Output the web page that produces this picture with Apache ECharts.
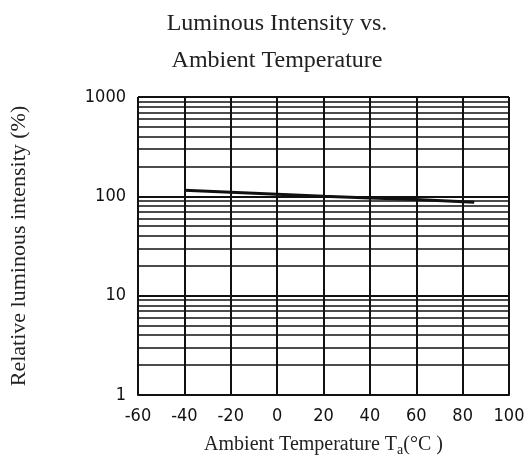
<!DOCTYPE html>
<html>
<head>
<meta charset="utf-8">
<script src="https://cdn.jsdelivr.net/npm/echarts@6/dist/echarts.min.js"></script>
<style>
  html, body { margin: 0; padding: 0; background: #fff; }
  #chart { width: 529px; height: 462px; }
</style>
</head>
<body>
<div id="chart"></div>
<script>
// ---- data ----
var tempC      = [-40, -20, 0, 20, 40, 60, 85];
var intensity  = [115, 110, 105, 100, 96, 93, 87];
var xTicks     = [-60, -40, -20, 0, 20, 40, 60, 80, 100];
var minorLines = [2, 3, 4, 5, 6, 7, 8, 9, 20, 30, 40, 50, 60, 70, 80, 90, 200, 300, 400, 500, 600, 700, 800, 900];

var SERIF = '"Liberation Serif", "DejaVu Serif", serif';
var NARROW = '"Liberation Sans Narrow", "DejaVu Sans Condensed", "Roboto", sans-serif';

var chart = echarts.init(document.getElementById("chart"), null, { renderer: "canvas" });

chart.setOption({
  animation: false,
  backgroundColor: "#fff",
  title: {
    text: "Luminous Intensity vs.\nAmbient Temperature",
    left: 272, top: 0, textAlign: "center",
    textStyle: { fontFamily: SERIF, fontSize: 24, fontWeight: "normal", color: "#222", lineHeight: 37 }
  },
  grid: { left: 135, right: 20, top: 97, bottom: 66 },
  xAxis: {
    type: "value", min: -60, max: 100, interval: 20,
    name: "Ambient Temperature T{sub|a}(°C )",
    nameLocation: "middle", nameGap: 38,
    nameTextStyle: {
      fontFamily: SERIF, fontSize: 20, color: "#222",
      rich: { sub: { fontFamily: SERIF, fontSize: 14, color: "#222", verticalAlign: "bottom", padding: [10, 0, 0, 0] } }
    },
    axisLine: { lineStyle: { color: "#111", width: 2 } },
    axisTick: { show: false },
    axisLabel: {
      fontFamily: NARROW, fontSize: 18, color: "#111", margin: 12,
      formatter: function (v) { return xTicks.indexOf(v) >= 0 ? String(v) : ""; }
    },
    splitLine: { lineStyle: { color: "#111", width: 2 } }
  },
  yAxis: {
    type: "log", logBase: 10, min: 1, max: 1000,
    name: "Relative luminous intensity (%)",
    nameLocation: "middle", nameGap: 108, nameRotate: 90,
    nameTextStyle: { fontFamily: SERIF, fontSize: 22, color: "#222" },
    axisLine: { lineStyle: { color: "#111", width: 2 } },
    axisTick: { show: false },
    axisLabel: {
      fontFamily: NARROW, fontSize: 18, color: "#111", margin: 12,
      formatter: function (v) { return String(Math.round(v)); }
    },
    splitLine: { lineStyle: { color: "#111", width: 2 } }
  },
  series: [{
    type: "line",
    data: tempC.map(function (t, i) { return [t, intensity[i]]; }),
    symbol: "none",
    lineStyle: { color: "#111", width: 3 },
    z: 5,
    markLine: {
      silent: true, symbol: "none", animation: false,
      label: { show: false },
      lineStyle: { color: "#111", width: 1.5, type: "solid" },
      data: minorLines.map(function (v) { return { yAxis: v }; })
    }
  }]
});
</script>
</body>
</html>
